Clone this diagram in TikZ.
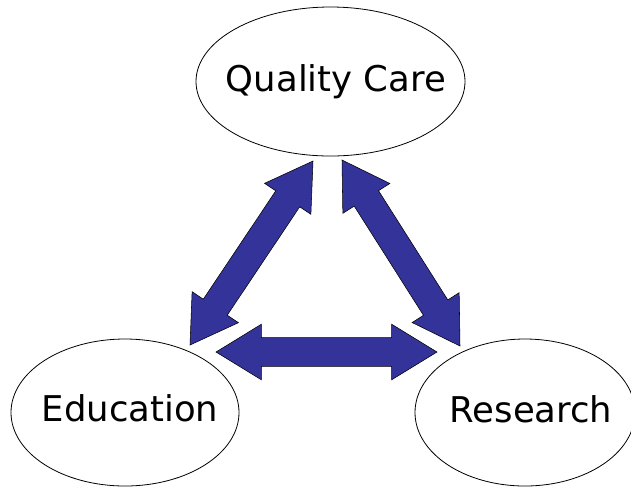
\documentclass[tikz,border=0pt]{standalone}
\usepackage{fontspec}
\setmainfont{DejaVu Sans}
\usetikzlibrary{shapes.geometric,shapes.arrows,calc}
\definecolor{arrowblue}{RGB}{51,51,153}

\begin{document}
\begin{tikzpicture}[
    x=0.75pt, y=-0.75pt,
    hub/.style={ellipse, draw, line width=0.6pt, inner sep=0pt},
    hubtext/.style={font=\fontsize{26.6}{32}\selectfont, inner sep=0pt},
    link/.style={double arrow, draw=black, line width=0.4pt, fill=arrowblue, inner sep=0pt, inner ysep=10.6pt, double arrow head extend=10.1pt, double arrow tip angle=63}
]
\useasboundingbox (0,0) rectangle (631,487);

% Three goals
\node[hub, minimum width=201.75pt, minimum height=111.75pt, label={[hubtext, xshift=4.1pt]center:Quality Care}] (care) at (330.5,81.5) {};
\node[hub, minimum width=171pt, minimum height=110.25pt, label={[hubtext, xshift=3.8pt, yshift=3pt]center:Education}] (edu) at (125,412.5) {};
\node[hub, minimum width=165pt, minimum height=110.25pt, label={[hubtext, xshift=4.5pt, yshift=2.6pt]center:Research}] (res) at (525,412.5) {};

% Arrow ends
\coordinate (careL) at (313,161);
\coordinate (careR) at (342,160);
\coordinate (eduT) at (190,345);
\coordinate (eduR) at (216,352);
\coordinate (resT) at (460,346);
\coordinate (resL) at (437,352);

% Block arrows
\path let \p1=($(careL)-(eduT)$) in node[link, minimum height={veclen(\x1,\y1)}, rotate={atan2(\y1,\x1)}] (careedu) at ($(eduT)!0.5!(careL)$) {};
\path let \p1=($(resT)-(careR)$) in node[link, minimum height={veclen(\x1,\y1)}, rotate={atan2(\y1,\x1)}] (careres) at ($(careR)!0.5!(resT)$) {};
\path let \p1=($(resL)-(eduR)$) in node[link, minimum height={veclen(\x1,\y1)}, rotate={atan2(\y1,\x1)}] (edures) at ($(eduR)!0.5!(resL)$) {};

\end{tikzpicture}
\end{document}
